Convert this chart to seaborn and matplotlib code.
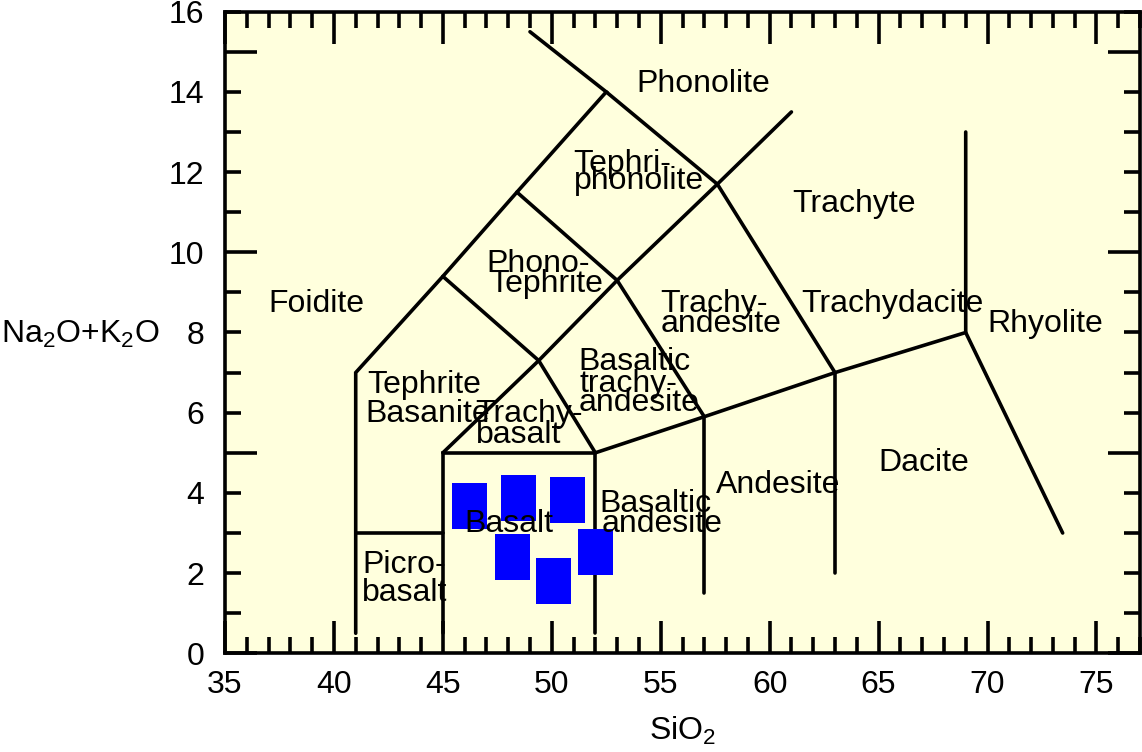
"""TAS classification diagram with sample analyses."""

import matplotlib

matplotlib.use("Agg")
import matplotlib.pyplot as plt
import numpy as np
import pandas as pd
import seaborn as sns
from matplotlib.markers import MarkerStyle
from matplotlib.path import Path

# sample analyses (wt%)
sio2 = [46.2, 48.45, 50.7, 48.2, 50.1, 52.0]
alkali = [3.67, 3.88, 3.83, 2.40, 1.80, 2.53]

# field boundaries as polylines of (SiO2, Na2O+K2O)
boundaries = [
    [(41, 0.5), (41, 7), (45, 9.4), (48.4, 11.5), (52.5, 14), (49, 15.5)],
    [(41, 3), (45, 3)],
    [(45, 0.5), (45, 5), (52, 5), (52, 0.5)],
    [(52, 5), (57, 5.9), (63, 7), (69, 8), (69, 13)],
    [(57, 1.5), (57, 5.9)],
    [(63, 2), (63, 7)],
    [(69, 8), (73.45, 3)],
    [(45, 5), (49.4, 7.3), (53, 9.3), (57.6, 11.7), (61, 13.5)],
    [(52, 5), (49.4, 7.3), (45, 9.4)],
    [(48.4, 11.5), (53, 9.3), (57, 5.9)],
    [(52.5, 14), (57.6, 11.7), (63, 7)],
]

# field names, one entry per text line (left edge, baseline)
field_names = [
    "Phonolite", "Tephri-", "phonolite", "Trachyte", "Phono-", "Tephrite",
    "Foidite", "Trachy-", "andesite", "Trachydacite", "Rhyolite",
    "Tephrite", "Basanite", "Trachy-", "basalt", "Basaltic", "trachy-",
    "andesite", "Basalt", "Basaltic", "andesite", "Andesite", "Dacite",
    "Picro-", "basalt",
]
field_x = [
    53.9, 51.0, 51.0, 61.05, 47.0, 47.15,
    37.0, 55.0, 55.0, 61.45, 70.0,
    41.55, 41.45, 46.5, 46.5, 51.2, 51.25,
    51.25, 46.0, 52.2, 52.3, 57.55, 65.0,
    41.3, 41.3,
]
field_y = [
    14.0, 12.0, 11.57, 11.0, 9.52, 9.02,
    8.52, 8.5, 8.02, 8.5, 8.02,
    6.5, 5.78, 5.78, 5.24, 7.06, 6.52,
    6.03, 3.03, 3.53, 3.03, 4.0, 4.55,
    2.01, 1.3,
]

sns.set_style("ticks")
plt.rcParams["font.family"] = ["Liberation Sans", "DejaVu Sans"]
plt.rcParams["mathtext.fontset"] = "custom"
plt.rcParams["mathtext.rm"] = "Liberation Sans"
plt.rcParams["mathtext.default"] = "regular"
for key in ["text.color", "axes.labelcolor", "xtick.color", "ytick.color"]:
    plt.rcParams[key] = "black"

fig = plt.figure(figsize=(11.42, 7.52), dpi=100)
ax = fig.add_axes([225 / 1142, 98.7 / 752, 915 / 1142, 641.6 / 752])
ax.set_facecolor("#FFFFDD")

lw = 2.6
for line in boundaries:
    xs, ys = zip(*line)
    ax.plot(xs, ys, color="black", lw=lw, solid_joinstyle="miter", zorder=2)

# blue rectangles for the samples
w, h = 25.2, 32.9
rect = Path([(-w / 2, -h / 2), (w / 2, -h / 2), (w / 2, h / 2), (-w / 2, h / 2), (0, 0)],
            [Path.MOVETO, Path.LINETO, Path.LINETO, Path.LINETO, Path.CLOSEPOLY])
samples = pd.DataFrame({"SiO2": sio2, "alkali": alkali})
sns.scatterplot(data=samples, x="SiO2", y="alkali", marker=MarkerStyle(rect),
                s=h ** 2, color="#0000FF", edgecolor="none", linewidth=0,
                ax=ax, zorder=3, legend=False)

for name, x, y in zip(field_names, field_x, field_y):
    ax.text(x, y, name, fontsize=23, ha="left", va="baseline", zorder=4)

ax.set_xlim(35, 77)
ax.set_ylim(0, 16)
ax.xaxis.set_major_locator(matplotlib.ticker.MultipleLocator(5))
ax.xaxis.set_minor_locator(matplotlib.ticker.MultipleLocator(1))
yvals = np.arange(0, 17)
ax.set_yticks(yvals)
ax.set_yticklabels([str(v) if v % 2 == 0 else "" for v in yvals])

ax.tick_params(which="both", direction="in", top=True, right=True,
               width=lw, color="black", labelcolor="black", labelsize=23)
ax.tick_params(axis="x", which="major", length=23, pad=12)
ax.tick_params(axis="x", which="minor", length=11.5)
ax.tick_params(axis="y", length=11.5, pad=15)
for v, tick in zip(yvals, ax.yaxis.get_major_ticks()):
    size = 23 if v % 5 == 0 else 11.5
    tick.tick1line.set_markersize(size)
    tick.tick2line.set_markersize(size)

for spine in ax.spines.values():
    spine.set_linewidth(lw)
    spine.set_color("black")

ax.set_xlabel("SiO$_2$", fontsize=23, labelpad=11)
ax.set_ylabel("Na$_2$O+K$_2$O", fontsize=23, rotation=0, ha="left", va="baseline")
ax.yaxis.set_label_coords(-0.2448, 0.4832)

fig.savefig("out.png", dpi=100)
